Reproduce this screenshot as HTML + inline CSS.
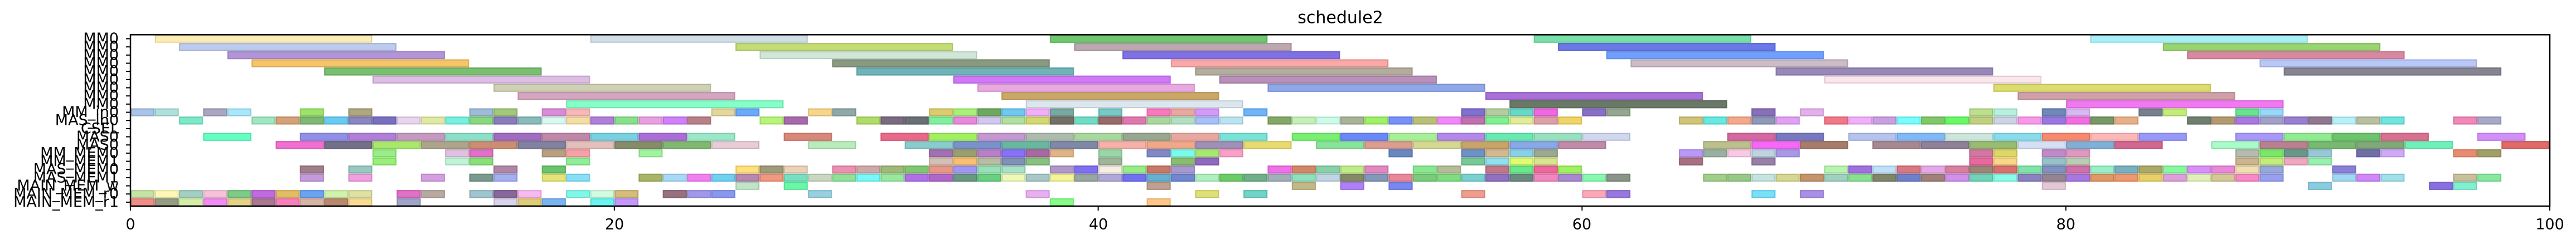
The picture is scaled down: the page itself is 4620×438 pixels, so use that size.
<!DOCTYPE html>
<html><head><meta charset="utf-8">
<style>
html,body{margin:0;padding:0;background:#fff;}
svg{display:block;}
text{font-family:"DejaVu Sans","Liberation Sans",sans-serif;fill:#000;}
</style></head>
<body>
<svg id="s" xmlns="http://www.w3.org/2000/svg" width="4620" height="438" viewBox="0 0 4620 438">
<rect x="0" y="0" width="4620" height="438" fill="#fff"/>
<g id="bars"></g>
<rect x="234" y="62.3" width="4339" height="307.7" fill="none" stroke="#000" stroke-width="2.5"/>
<text x="2404" y="32" font-size="30" text-anchor="middle" dominant-baseline="central">schedule2</text>
<g font-size="27" text-anchor="end" dominant-baseline="central">
<text x="213" y="69.5">MM0</text>
<text x="213" y="84.2">MM0</text>
<text x="213" y="98.8">MM0</text>
<text x="213" y="113.5">MM0</text>
<text x="213" y="128.2">MM0</text>
<text x="213" y="142.9">MM0</text>
<text x="213" y="157.5">MM0</text>
<text x="213" y="172.2">MM0</text>
<text x="213" y="186.9">MM0</text>
<text x="213" y="201.5">MM_in0</text>
<text x="213" y="216.2">MAS_in0</text>
<text x="213" y="230.9">CSEL</text>
<text x="213" y="245.5">MAS0</text>
<text x="213" y="260.2">MAS0</text>
<text x="213" y="274.9">MM_MEM0</text>
<text x="213" y="289.6">MM_MEM1</text>
<text x="213" y="304.2">MAS_MEM0</text>
<text x="213" y="318.9">MAS_MEM1</text>
<text x="213" y="333.6">MAIN_MEM_w</text>
<text x="213" y="348.2">MAIN_MEM_r0</text>
<text x="213" y="362.9">MAIN_MEM_r1</text>
</g>
<g id="ticks" stroke="#000" stroke-width="2"></g>
<g font-size="27" text-anchor="middle" dominant-baseline="central">
<text x="234" y="403">0</text>
<text x="1102" y="403">20</text>
<text x="1970" y="403">40</text>
<text x="2837" y="403">60</text>
<text x="3705" y="403">80</text>
<text x="4573" y="403">100</text>
</g>
</svg>
<script>
(function(){
var U=43.39,X0=234,Y0=62.3,H=14.67;
function X(t){return X0+U*t;}
var long={
0:"1-10 fdecb4;19-28 d0dee8;38-47 6fc86f;58-67 78e0a8;81-90 a8f0f8",
1:"2-11 bccbee;25-34 c4dc74;39-48 bca8ae;59-68 6a78e8;84-93 98d470",
2:"4-13 b294d8;26-35 d0e6d8;41-50 8070e6;61-70 70a0ff;85-94 d888a0",
3:"5-14 f6c56a;29-38 8a9a80;43-52 fba8a8;62-71 ccbcc8;88-97 b8c8f8",
4:"8-17 7abf70;30-39 70b4b8;44-53 b4ac9c;68-77 9888b8;89-98 868490",
5:"10-19 dcbde4;34-43 d078f8;45-54 b890b8;70-79 fae6ec",
6:"15-24 d0d0b5;35-44 e8a8e0;47-56 90a8e8;77-86 dcdc70",
7:"16-25 d4a6bf;36-45 cca868;56-65 a870d8;78-87 d0a0a8",
8:"18-27 86fec8;37-46 dce6ee;57-66 6a7868;80-89 f078f0",
12:"3-5 66ffc2;7-9 9090e8;9-11 b07fd8;11-13 c59ac0;13-15 8ce0c8;15-17 a06cc0;17-19 c088a8;19-21 78d0e0;21-23 aa6ed8;23-25 9ae8c8;27-29 d8887a;31-33 e86a88;33-35 a0f060;35-37 c498d0;37-39 acbcac;39-41 a8d8a0;41-43 98a890;43-45 e8a8a0;45-47 78e4d8;48-50 78f070;50-52 6a88f8;52-54 a8f098;54-56 b488e8;56-58 68eab0;58-60 98e0c0;60-62 d0d8f0;66-68 d468a0;68-70 7878c0;71-73 b4c4ec;73-75 80b8f8;75-77 cce6dc;77-79 88dcec;79-81 f88870;81-83 fcb8b8;83-85 9898f8;87-89 a898f8;89-91 90ec90;91-93 6cc46c;93-95 d87090;97-99 d090f8",
13:"6-8 f06fd0;8-10 757089;10-12 a8e86c;12-14 ada58a;14-16 cc8e72;16-18 8082a0;18-20 e4c0bc;20-22 868c6a;22-24 80b870;24-26 e8ccd8;28-30 b8ecb8;32-34 88cccc;34-36 7a92cc;36-38 68b8a0;38-40 8088a8;40-42 f8b0a8;42-44 f2a888;44-46 a090b8;46-48 e8dc70;49-51 88e498;51-53 dc9c90;53-55 d4d890;55-57 c8a468;57-59 88a8e8;59-61 c08aa8;65-67 bcc08c;67-69 f868f8;69-71 a87c68;72-74 a88890;74-76 908098;76-78 98bc70;78-80 d4e0f4;80-82 80b0d8;82-84 d06890;86-88 a8fcc8;88-90 b88090;90-92 78b870;92-94 80a878;94-96 70f0b8;98-100 e06a68"
};
var unit={
9:"0 a9c4e6;1 b0e0dc;3 a9a7c0;4 a8e8fb;7 9de36b;9 aea77f;14 9fbcd6;15 a3c87c;17 d88cd8;18 f8b8b8;24 e5d79b;25 6aaaf8;28 f6d68a;29 90a8a8;33 dccc70;34 a8f07a;35 70a860;36 70c8f0;37 f0b0f8;38 78a8a0;40 78c8c8;42 f878c0;43 e8a8a0;44 d49af8;46 70b4f8;55 8070d0;56 b4cca0;57 68d8c8;58 f068e0;60 8870c8;61 94a890;67 8870b8;69 e4b0ec;76 bce090;77 b8f0e0;79 7088b8;80 d8b8f0;83 788090;84 c4ec78;87 68e490;88 98d8f8",
10:"2 7ee8c8;5 a0e6c0;6 d4a27a;7 80b873;8 68cbef;9 8a86c0;10 7a70c0;11 e8d4ec;12 e0e8a4;13 78f0e0;14 88d880;15 8a7cbc;16 8ababa;17 d8f8f0;18 f4dea6;19 b07fd8;20 88e08c;21 e8a0e0;22 d080f8;23 b88088;26 b8f47a;27 a66aac;30 b0dc6a;31 7a6a80;32 6a6e75;33 80f0a0;34 e888dc;35 d0c8f0;36 b0e0a0;37 d4d870;38 747068;39 70dcc4;40 986a6a;41 e078b0;42 a8d8a0;43 b0e0c0;44 a8c0f8;45 bce4f0;47 84a868;48 c4f0b8;49 ccfce8;50 a8b498;51 a0f068;52 7890f8;53 b8c078;54 f088f8;55 c070b0;56 80f090;57 e0ec98;58 dca0a8;59 f0d468;64 d0c478;65 68e8e0;66 f4a88c;67 9098b8;68 e0a0f4;70 f07888;71 f0b0f8;72 c8a0e0;73 78fcfc;74 80c868;75 68f868;76 c0d080;77 ccd4e4;78 f898e8;79 9878e0;80 f070e0;81 789868;82 e8b088;85 708070;86 b49a70;87 a878e0;88 a0a0c8;89 9880d0;90 907890;91 b8f0f8;92 b8c0a0;93 70e4e0;96 f088b8;97 a8a8c8",
14:"10 9aee88;13 e0c0e0;14 e070c8;17 b8a080;18 f8a0a8;21 a0f4a0;33 a070b0;34 98a070;35 b880c8;36 8870f8;37 a868a0;38 e0b488;40 98d8a8;42 8088c8;43 78fcec;44 a8e870;45 fca0c8;52 6a88c0;55 7090c8;56 d4b890;57 88d0e8;58 9ca890;64 b898f8;65 98b0a0;66 f8c8e4;67 bcd4e0;68 a898e8;76 d078a0;77 dcd868;79 c08ac8;80 e098c0;87 b4bcb0;88 78e868;89 68988a;90 98c8d8;92 7070a8;93 d0a8f8;96 e88c70;97 a0a068",
15:"10 98f07a;13 c0f4d8;14 88e078;18 90ee98;33 d4c0b4;34 f8c070;35 b8bca0;36 8090b8;37 88c080;40 a0b498;43 8abc70;44 9068c0;55 78c898;56 90e0f0;57 e0fc70;58 d8e490;64 a87080;67 9880a8;76 ea68a0;77 f8d888;79 98c0c8;80 bcccb4;87 ccb490;88 c4ec78;89 f0a8c0;90 98f0b0",
16:"7 a07f8a;9 98c9c0;15 ae88a8;17 6cc46c;25 ffe07a;26 a09a7a;27 ecd0b8;29 ec90b0;30 ccaaaa;31 a0b878;32 80c870;33 e89888;34 a098f0;35 98e0b8;36 a8e0c8;38 b098c8;39 8070f0;40 f8eee4;41 98ec88;42 c87868;43 a898d0;47 f070e8;48 d08868;49 88d0a8;50 c0ec88;51 e088c0;53 88e890;54 b4bc98;56 c07888;57 68e888;58 ec6898;59 a0f060;70 b8f4b0;71 a070e0;72 c0e0f8;73 d87880;74 e4a8e8;75 d880a0;76 9c8478;77 d87070;78 80e4a8;79 8090c0;80 d070a8;81 98f0c8;82 78b0c0;83 aca868;84 88f8a0;85 d890f8;86 e888d8;87 f0e0b0;88 98a8d8;91 8880d8",
17:"7 c39bdc;9 f0a0e0;12 d4a0e0;14 7a9a90;15 a4b0f0;17 e4e47a;18 88e0f8;21 aab468;22 a8d8f8;23 f080f0;24 70d0f0;25 b888b0;26 f09880;27 78e0c0;28 c8d8c0;29 90e098;30 78f8f8;31 98e8a0;32 b070e8;33 b068c8;34 6a9880;35 68d080;36 f0f8b8;37 a8c8c8;38 f4f498;39 98a8a0;40 b0a8d8;41 7070f0;42 68b0d0;43 7088d0;44 b0f0c0;45 6ccc68;46 70b088;47 a0b0b8;48 90e0c0;49 c0d4e4;50 848a68;51 8498b8;52 e88898;53 7acc7a;54 80dc80;55 78d0d0;56 9070c0;57 6a8a80;58 f088c0;59 a888d0;60 88f8b0;61 8a9488;65 a0d088;66 98c888;67 c4e4e0;68 d4d890;69 c4946c;70 a0d0c0;71 88e090;72 808468;73 7080c8;74 a08078;75 d090ec;76 70d4b8;77 88fce8;78 8c80c0;79 948490;80 a878e0;81 e09868;82 ec9870;83 e8d068;84 dca0d8;85 e0f0b8;86 d4c894;87 f888c8;88 98a0f0;91 a0d8f0;92 d088f8;93 a0e0e8;96 c8c09c;97 88e8a0",
18:"25 c0e4c8;27 6af8a8;42 c0a090;48 c4b888;50 b080f8;52 7888f0;79 e4c8d8;90 88cce0;95 8870e0;96 80f0d0",
19:"0 c5e3a5;1 fef7b8;2 a2d0c3;3 f7c1da;4 7ccb86;5 c26be0;6 e2bd65;7 6aa3f0;8 d1f2ab;9 dde2a2;11 e070c8;12 b8aaa0;14 a0c4d0;15 886898;16 f8b8f0;18 80f8e8;19 d0fce0;20 d4bc7c;22 987080;23 a098e8;24 8898f0;28 98d0e0;37 e8b0f0;44 e0e078;46 70d4c8;55 f09c90;60 fca8b8;61 9878e0;67 78e0f8;69 a890e8",
20:"0 f08d87;1 949c83;2 d5efaa;3 f08cf2;4 e2d389;5 a9778f;6 f87fba;7 d8b4a5;8 b8896f;9 f8dc96;11 a0a4c8;15 d8d4ec;16 e0cc78;17 78b4f0;19 68f4f0;20 c498f8;38 88fc88;42 ffc888"
};
var out=[];
function bar(r,s,e,c){
  var x=X(s),w=X(e)-x,y=Y0+H*r;
  out.push('<rect x="'+(x+1).toFixed(1)+'" y="'+(y+1).toFixed(1)+'" width="'+(w-2).toFixed(1)+'" height="'+(H-2).toFixed(1)+'" fill="#'+c+'" stroke="#'+c+'" stroke-width="2"/>');
  out.push('<rect x="'+(x+1.5).toFixed(1)+'" y="'+(y+1.5).toFixed(1)+'" width="'+(w-3).toFixed(1)+'" height="'+(H-3).toFixed(1)+'" fill="none" stroke="rgba(0,0,0,0.14)" stroke-width="1.5"/>');
}
for(var r in long){long[r].split(";").forEach(function(it){var p=it.split(" "),se=p[0].split("-");bar(+r,+se[0],+se[1],p[1]);});}
for(var r2 in unit){unit[r2].split(";").forEach(function(it){var p=it.split(" ");bar(+r2,+p[0],+p[0]+1,p[1]);});}
document.getElementById("bars").innerHTML=out.join("");
var t=[];
for(var i=0;i<21;i++){var yy=69.5+14.67*i;t.push('<line x1="226" y1="'+yy+'" x2="234" y2="'+yy+'"/>');}
for(var k=0;k<=100;k+=20){var xx=X(k);t.push('<line x1="'+xx+'" y1="370" x2="'+xx+'" y2="378"/>');}
document.getElementById("ticks").innerHTML=t.join("");
})();
</script>
</body></html>
